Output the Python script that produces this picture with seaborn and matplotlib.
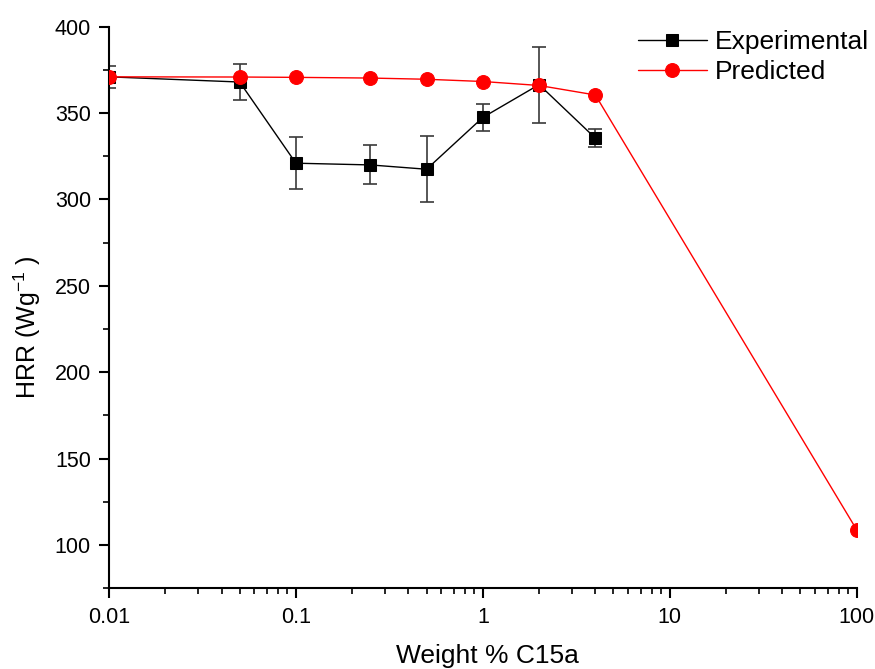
import matplotlib
matplotlib.use("Agg")
import matplotlib.pyplot as plt
import seaborn as sns
import pandas as pd
import numpy as np
from matplotlib.ticker import LogLocator, FixedLocator, MultipleLocator

exp_x = [0.01, 0.05, 0.1, 0.25, 0.5, 1, 2, 4]
exp_y = [371, 368, 321, 320, 317.5, 347.5, 366.5, 335.5]
exp_err = [6.5, 10.3, 15, 11.3, 19, 7.7, 22, 5.4]

pred_x = [0.01, 0.05, 0.1, 0.25, 0.5, 1, 2, 4, 100]
pred_y = [371, 370.9, 370.7, 370.3, 369.6, 368.3, 366, 360.5, 108.8]

xticks = [0.01, 0.1, 1, 10, 100]
xticklabels = ["0.01", "0.1", "1", "10", "100"]
yticks = [100, 150, 200, 250, 300, 350, 400]

sns.set_style("ticks")
plt.rcParams['font.family'] = ['Liberation Sans', 'DejaVu Sans']
plt.rcParams['text.color'] = 'black'
plt.rcParams['axes.labelcolor'] = 'black'
plt.rcParams['xtick.color'] = 'black'
plt.rcParams['ytick.color'] = 'black'
plt.rcParams['axes.edgecolor'] = 'black'

fig = plt.figure(figsize=(8.75, 6.69), dpi=100)
ax = fig.add_axes([0.1246, 0.121, 0.8544, 0.839])

df_exp = pd.DataFrame({"x": exp_x, "y": exp_y})
df_pred = pd.DataFrame({"x": pred_x, "y": pred_y})

ax.errorbar(exp_x, exp_y, yerr=exp_err, fmt='none', ecolor='#3a3a3a',
            elinewidth=1.2, capsize=5, capthick=1.2, zorder=2)
sns.lineplot(data=df_exp, x="x", y="y", ax=ax, color='black', lw=1,
             marker='s', markersize=9, markeredgecolor='black',
             markerfacecolor='black', label='Experimental', zorder=3)
sns.lineplot(data=df_pred, x="x", y="y", ax=ax, color='red', lw=1,
             marker='o', markersize=10, markeredgecolor='red',
             markerfacecolor='red', label='Predicted', zorder=4)

ax.set_xscale('log')
ax.set_xlim(0.01, 100)
ax.set_ylim(75, 400)
ax.xaxis.set_major_locator(FixedLocator(xticks))
ax.set_xticklabels(xticklabels)
ax.xaxis.set_minor_locator(LogLocator(base=10, subs=np.arange(2, 10)))
ax.yaxis.set_major_locator(FixedLocator(yticks))
ax.yaxis.set_minor_locator(MultipleLocator(25))

for s in ['top', 'right']:
    ax.spines[s].set_visible(False)
for s in ['left', 'bottom']:
    ax.spines[s].set_linewidth(1.5)
ax.tick_params(which='major', length=7, width=1.5, labelsize=15.5, direction='out')
ax.tick_params(which='minor', length=4, width=1.2, direction='out')
ax.tick_params(axis='x', pad=7)
ax.tick_params(axis='y', pad=6)

ax.set_xlabel("Weight % C15a", fontsize=19)
ax.set_ylabel("HRR (Wg$^{\\mathregular{-1}}$ )", fontsize=18)
ax.xaxis.set_label_coords(0.506, -0.1)
ax.yaxis.set_label_coords(-0.088, 0.465)

leg = ax.legend(loc='upper right', bbox_to_anchor=(1.048, 1.037), frameon=False,
                fontsize=19, handlelength=2.6, handletextpad=0.3, labelspacing=0.25)

fig.savefig("out.png", dpi=100)
